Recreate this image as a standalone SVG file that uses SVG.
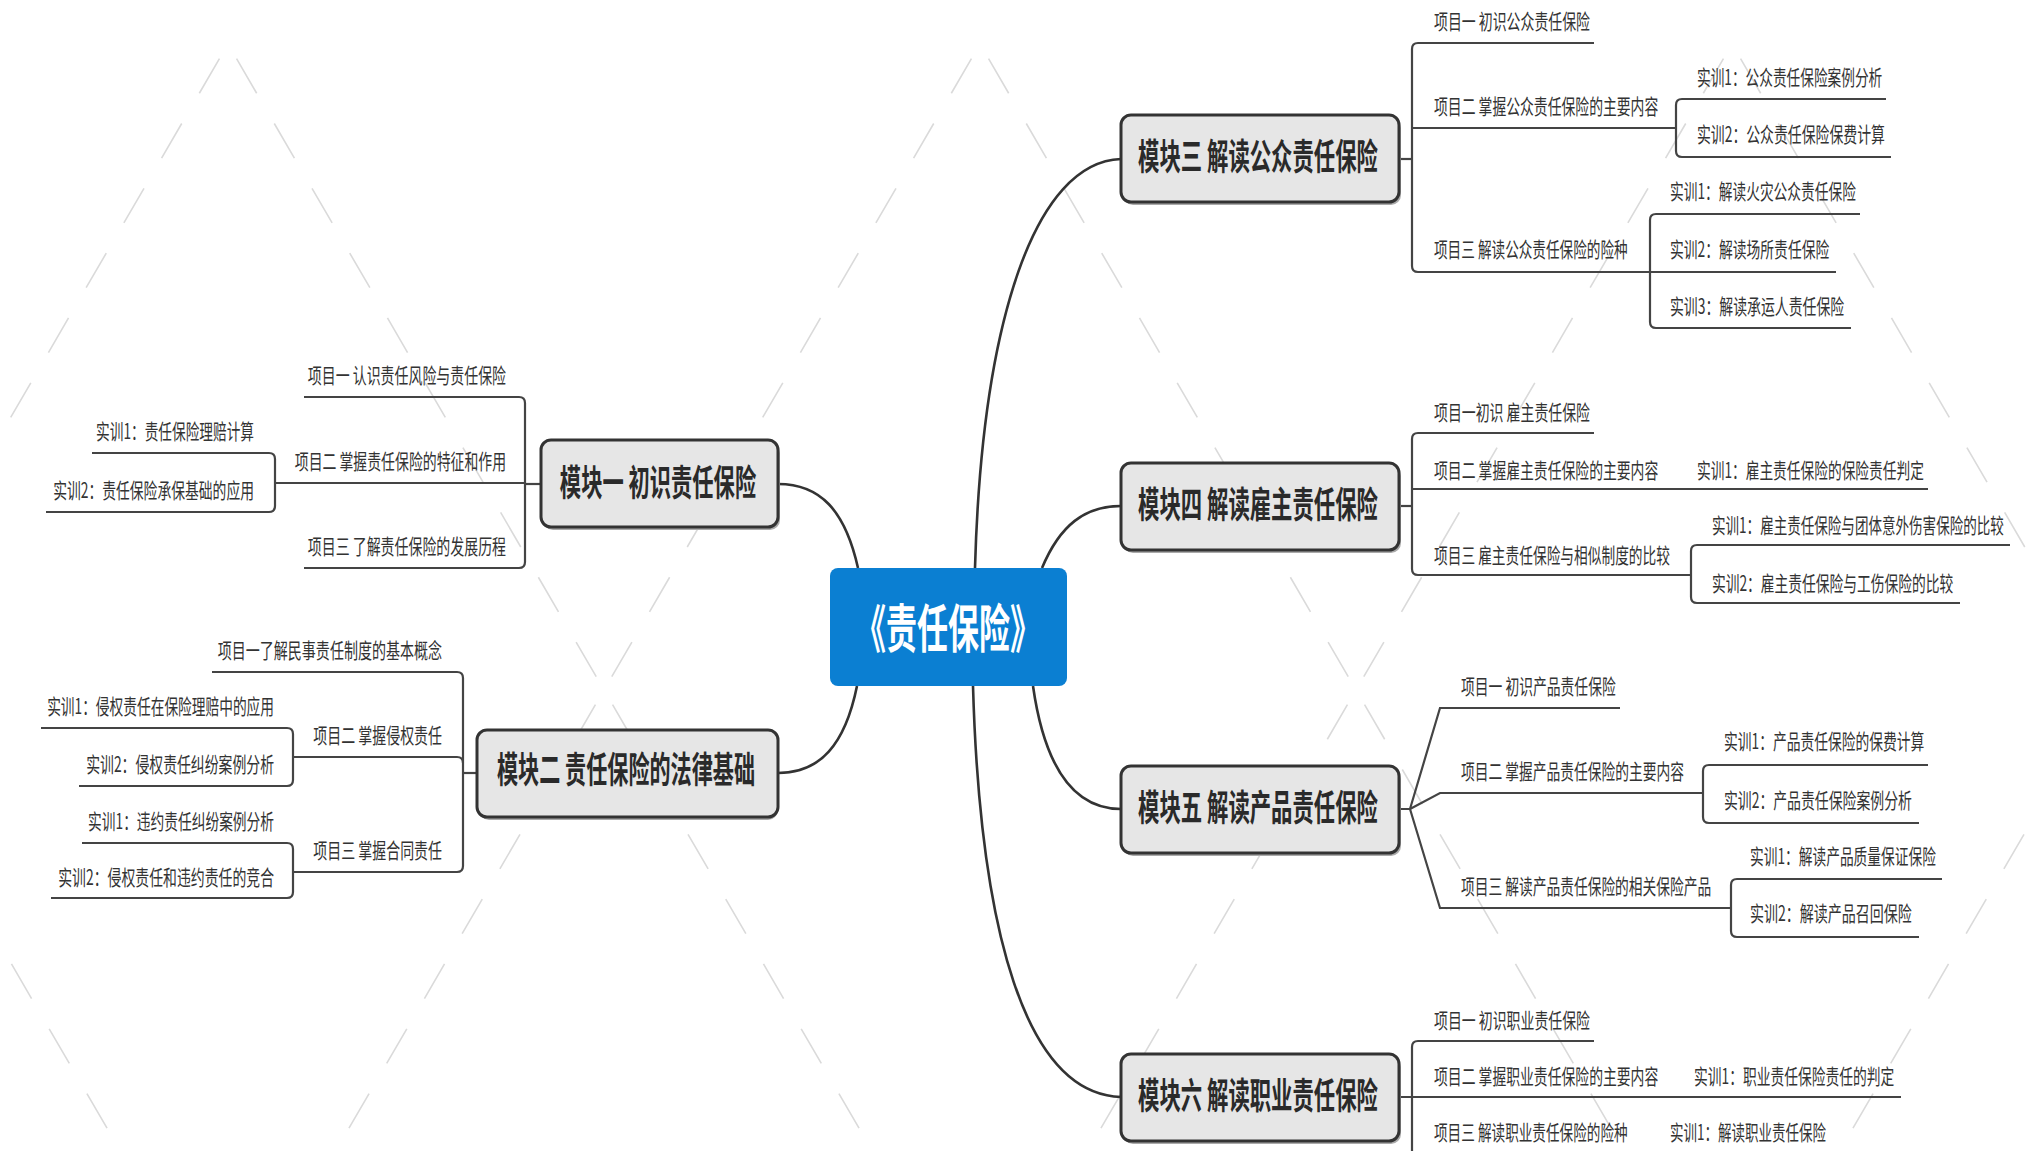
<svg xmlns="http://www.w3.org/2000/svg" width="2027" height="1151" viewBox="0 0 2027 1151">
<defs>
<style>
.bg{stroke:#dadada;stroke-width:1.6;fill:none;stroke-dasharray:40 35;stroke-dashoffset:58}
.cv{stroke:#333;stroke-width:2.6;fill:none}
.ln{stroke:#444;stroke-width:2.2;fill:none}
.box{fill:#e6e6e6;stroke:#333;stroke-width:3}
.shd{fill:#aaa}
.t{font-family:"Noto Sans CJK SC","Noto Sans",sans-serif;font-size:21px;fill:#333;dominant-baseline:central}
.m{font-family:"Noto Sans CJK SC","Noto Sans",sans-serif;font-size:36px;font-weight:bold;fill:#2a2a2a;dominant-baseline:central;text-anchor:middle}
.c{font-family:"Noto Sans CJK SC","Noto Sans",sans-serif;font-size:52px;font-weight:bold;fill:#fff;dominant-baseline:central;text-anchor:middle}
.e{text-anchor:end}
</style>
</defs>
<rect width="2027" height="1151" fill="#fff"/>
<g id="background">
<line class="bg" x1="228" y1="44" x2="-148" y2="690"/>
<line class="bg" x1="228" y1="44" x2="604" y2="690"/>
<line class="bg" x1="980" y1="44" x2="604" y2="690"/>
<line class="bg" x1="980" y1="44" x2="1356" y2="690"/>
<line class="bg" x1="1732" y1="44" x2="1356" y2="690"/>
<line class="bg" x1="1732" y1="44" x2="2108" y2="690"/>
<line class="bg" x1="-148" y1="690" x2="228" y2="1336"/>
<line class="bg" x1="604" y1="690" x2="228" y2="1336"/>
<line class="bg" x1="604" y1="690" x2="980" y2="1336"/>
<line class="bg" x1="1356" y1="690" x2="980" y2="1336"/>
<line class="bg" x1="1356" y1="690" x2="1732" y2="1336"/>
<line class="bg" x1="2108" y1="690" x2="1732" y2="1336"/>
</g>
<g id="connectors">
<path class="cv" d="M975 568 C982 320 1035 162 1121 159"/>
<path class="cv" d="M1042 568 C1060 525 1085 506 1121 506"/>
<path class="cv" d="M1033 686 C1045 770 1075 809 1121 809"/>
<path class="cv" d="M973 686 C980 930 1025 1094 1121 1097"/>
<path class="cv" d="M858 568 C845 510 820 484 778 484"/>
<path class="cv" d="M857 686 C845 745 820 773 778 773"/>
<path class="ln" d="M1399 159 H1412"/>
<path class="ln" d="M1594 43 H1418 Q1412 43 1412 49 V266 Q1412 272 1418 272 H1650"/>
<path class="ln" d="M1412 128 H1676"/>
<path class="ln" d="M1886 99 H1682 Q1676 99 1676 105 V151 Q1676 157 1682 157 H1891"/>
<path class="ln" d="M1860 214 H1656 Q1650 214 1650 220 V322 Q1650 328 1656 328 H1851"/>
<path class="ln" d="M1650 272 H1836"/>
<path class="ln" d="M1399 506 H1412"/>
<path class="ln" d="M1594 433 H1418 Q1412 433 1412 439 V569 Q1412 575 1418 575 H1691"/>
<path class="ln" d="M1412 489 H1928"/>
<path class="ln" d="M2010 545 H1697 Q1691 545 1691 551 V597 Q1691 603 1697 603 H1960"/>
<path class="ln" d="M1399 809 H1410 L1440 708 H1620"/>
<path class="ln" d="M1410 809 L1440 793 H1703"/>
<path class="ln" d="M1410 809 L1440 908 H1731"/>
<path class="ln" d="M1928 765 H1709 Q1703 765 1703 771 V817 Q1703 823 1709 823 H1919"/>
<path class="ln" d="M1942 879 H1737 Q1731 879 1731 885 V931 Q1731 937 1737 937 H1919"/>
<path class="ln" d="M1594 1041 H1418 Q1412 1041 1412 1047 V1160"/>
<path class="ln" d="M1399 1097 H1901"/>
<path class="ln" d="M541 484 H525"/>
<path class="ln" d="M304 397 H519 Q525 397 525 403 V562 Q525 568 519 568 H304"/>
<path class="ln" d="M525 483 H275"/>
<path class="ln" d="M92 453 H269 Q275 453 275 459 V506 Q275 512 269 512 H46"/>
<path class="ln" d="M477 773 H463"/>
<path class="ln" d="M212 672 H457 Q463 672 463 678 V866 Q463 872 457 872 H293"/>
<path class="ln" d="M293 757 H457 Q463 757 463 763"/>
<path class="ln" d="M41 728 H287 Q293 728 293 734 V780 Q293 786 287 786 H79"/>
<path class="ln" d="M82 843 H287 Q293 843 293 849 V892 Q293 898 287 898 H51"/>
</g>
<g id="root">
<rect x="830" y="568" width="237" height="118" rx="8" fill="#0b7fd2"/>
<text class="c" transform="translate(948,625) scale(0.65,1)" x="0" y="0" textLength="286" lengthAdjust="spacingAndGlyphs">《责任保险》</text>
</g>
<g id="module3">
<rect class="shd" x="1123" y="118" width="278" height="87" rx="10"/>
<rect class="box" x="1121" y="115" width="278" height="87" rx="10"/>
<text class="m" transform="translate(1258,155) scale(0.65,1)" x="0" y="0" textLength="369" lengthAdjust="spacingAndGlyphs">模块三 解读公众责任保险</text>
</g>
<g id="module4">
<rect class="shd" x="1123" y="466" width="278" height="87" rx="10"/>
<rect class="box" x="1121" y="463" width="278" height="87" rx="10"/>
<text class="m" transform="translate(1258,503) scale(0.65,1)" x="0" y="0" textLength="369" lengthAdjust="spacingAndGlyphs">模块四 解读雇主责任保险</text>
</g>
<g id="module5">
<rect class="shd" x="1123" y="769" width="278" height="87" rx="10"/>
<rect class="box" x="1121" y="766" width="278" height="87" rx="10"/>
<text class="m" transform="translate(1258,806) scale(0.65,1)" x="0" y="0" textLength="369" lengthAdjust="spacingAndGlyphs">模块五 解读产品责任保险</text>
</g>
<g id="module6">
<rect class="shd" x="1123" y="1057" width="278" height="87" rx="10"/>
<rect class="box" x="1121" y="1054" width="278" height="87" rx="10"/>
<text class="m" transform="translate(1258,1094) scale(0.65,1)" x="0" y="0" textLength="369" lengthAdjust="spacingAndGlyphs">模块六 解读职业责任保险</text>
</g>
<g id="module1">
<rect class="shd" x="543" y="443" width="237" height="87" rx="10"/>
<rect class="box" x="541" y="440" width="237" height="87" rx="10"/>
<text class="m" transform="translate(658,481) scale(0.65,1)" x="0" y="0" textLength="302" lengthAdjust="spacingAndGlyphs">模块一 初识责任保险</text>
</g>
<g id="module2">
<rect class="shd" x="479" y="733" width="299" height="87" rx="10"/>
<rect class="box" x="477" y="730" width="301" height="87" rx="10"/>
<text class="m" transform="translate(626,768) scale(0.65,1)" x="0" y="0" textLength="397" lengthAdjust="spacingAndGlyphs">模块二 责任保险的法律基础</text>
</g>
<g id="m3-items">
<g id="m3-p1"><text class="t" transform="translate(1434,20) scale(0.65,1)" x="0" y="0" textLength="240" lengthAdjust="spacingAndGlyphs">项目一 初识公众责任保险</text></g>
<g id="m3-p2"><text class="t" transform="translate(1434,105) scale(0.65,1)" x="0" y="0" textLength="345" lengthAdjust="spacingAndGlyphs">项目二 掌握公众责任保险的主要内容</text></g>
<g id="m3-p2-s1"><text class="t" transform="translate(1697,76) scale(0.65,1)" x="0" y="0" textLength="285" lengthAdjust="spacingAndGlyphs">实训1：公众责任保险案例分析</text></g>
<g id="m3-p2-s2"><text class="t" transform="translate(1697,133) scale(0.65,1)" x="0" y="0" textLength="289" lengthAdjust="spacingAndGlyphs">实训2：公众责任保险保费计算</text></g>
<g id="m3-p3"><text class="t" transform="translate(1434,248) scale(0.65,1)" x="0" y="0" textLength="298" lengthAdjust="spacingAndGlyphs">项目三 解读公众责任保险的险种</text></g>
<g id="m3-p3-s1"><text class="t" transform="translate(1670,190) scale(0.65,1)" x="0" y="0" textLength="286" lengthAdjust="spacingAndGlyphs">实训1：解读火灾公众责任保险</text></g>
<g id="m3-p3-s2"><text class="t" transform="translate(1670,248) scale(0.65,1)" x="0" y="0" textLength="245" lengthAdjust="spacingAndGlyphs">实训2：解读场所责任保险</text></g>
<g id="m3-p3-s3"><text class="t" transform="translate(1670,305) scale(0.65,1)" x="0" y="0" textLength="268" lengthAdjust="spacingAndGlyphs">实训3：解读承运人责任保险</text></g>
</g>
<g id="m4-items">
<g id="m4-p1"><text class="t" transform="translate(1434,411) scale(0.65,1)" x="0" y="0" textLength="240" lengthAdjust="spacingAndGlyphs">项目一初识 雇主责任保险</text></g>
<g id="m4-p2"><text class="t" transform="translate(1434,469) scale(0.65,1)" x="0" y="0" textLength="345" lengthAdjust="spacingAndGlyphs">项目二 掌握雇主责任保险的主要内容</text></g>
<g id="m4-p2-s1"><text class="t" transform="translate(1697,469) scale(0.65,1)" x="0" y="0" textLength="349" lengthAdjust="spacingAndGlyphs">实训1：雇主责任保险的保险责任判定</text></g>
<g id="m4-p3"><text class="t" transform="translate(1434,554) scale(0.65,1)" x="0" y="0" textLength="363" lengthAdjust="spacingAndGlyphs">项目三 雇主责任保险与相似制度的比较</text></g>
<g id="m4-p3-s1"><text class="t" transform="translate(1712,524) scale(0.65,1)" x="0" y="0" textLength="449" lengthAdjust="spacingAndGlyphs">实训1：雇主责任保险与团体意外伤害保险的比较</text></g>
<g id="m4-p3-s2"><text class="t" transform="translate(1712,582) scale(0.65,1)" x="0" y="0" textLength="371" lengthAdjust="spacingAndGlyphs">实训2：雇主责任保险与工伤保险的比较</text></g>
</g>
<g id="m5-items">
<g id="m5-p1"><text class="t" transform="translate(1461,685) scale(0.65,1)" x="0" y="0" textLength="238" lengthAdjust="spacingAndGlyphs">项目一 初识产品责任保险</text></g>
<g id="m5-p2"><text class="t" transform="translate(1461,770) scale(0.65,1)" x="0" y="0" textLength="343" lengthAdjust="spacingAndGlyphs">项目二 掌握产品责任保险的主要内容</text></g>
<g id="m5-p2-s1"><text class="t" transform="translate(1724,740) scale(0.65,1)" x="0" y="0" textLength="308" lengthAdjust="spacingAndGlyphs">实训1：产品责任保险的保费计算</text></g>
<g id="m5-p2-s2"><text class="t" transform="translate(1724,799) scale(0.65,1)" x="0" y="0" textLength="289" lengthAdjust="spacingAndGlyphs">实训2：产品责任保险案例分析</text></g>
<g id="m5-p3"><text class="t" transform="translate(1461,885) scale(0.65,1)" x="0" y="0" textLength="385" lengthAdjust="spacingAndGlyphs">项目三 解读产品责任保险的相关保险产品</text></g>
<g id="m5-p3-s1"><text class="t" transform="translate(1750,855) scale(0.65,1)" x="0" y="0" textLength="286" lengthAdjust="spacingAndGlyphs">实训1：解读产品质量保证保险</text></g>
<g id="m5-p3-s2"><text class="t" transform="translate(1750,912) scale(0.65,1)" x="0" y="0" textLength="249" lengthAdjust="spacingAndGlyphs">实训2：解读产品召回保险</text></g>
</g>
<g id="m6-items">
<g id="m6-p1"><text class="t" transform="translate(1434,1019) scale(0.65,1)" x="0" y="0" textLength="240" lengthAdjust="spacingAndGlyphs">项目一 初识职业责任保险</text></g>
<g id="m6-p2"><text class="t" transform="translate(1434,1075) scale(0.65,1)" x="0" y="0" textLength="345" lengthAdjust="spacingAndGlyphs">项目二 掌握职业责任保险的主要内容</text></g>
<g id="m6-p2-s1"><text class="t" transform="translate(1694,1075) scale(0.65,1)" x="0" y="0" textLength="308" lengthAdjust="spacingAndGlyphs">实训1：职业责任保险责任的判定</text></g>
<g id="m6-p3"><text class="t" transform="translate(1434,1131) scale(0.65,1)" x="0" y="0" textLength="298" lengthAdjust="spacingAndGlyphs">项目三 解读职业责任保险的险种</text></g>
<g id="m6-p3-s1"><text class="t" transform="translate(1670,1131) scale(0.65,1)" x="0" y="0" textLength="240" lengthAdjust="spacingAndGlyphs">实训1：解读职业责任保险</text></g>
</g>
<g id="m1-items">
<g id="m1-p1"><text class="t e" transform="translate(506,374) scale(0.65,1)" x="0" y="0" textLength="305" lengthAdjust="spacingAndGlyphs">项目一 认识责任风险与责任保险</text></g>
<g id="m1-p2"><text class="t e" transform="translate(506,460) scale(0.65,1)" x="0" y="0" textLength="325" lengthAdjust="spacingAndGlyphs">项目二 掌握责任保险的特征和作用</text></g>
<g id="m1-p2-s1"><text class="t e" transform="translate(254,430) scale(0.65,1)" x="0" y="0" textLength="243" lengthAdjust="spacingAndGlyphs">实训1：责任保险理赔计算</text></g>
<g id="m1-p2-s2"><text class="t e" transform="translate(254,489) scale(0.65,1)" x="0" y="0" textLength="309" lengthAdjust="spacingAndGlyphs">实训2：责任保险承保基础的应用</text></g>
<g id="m1-p3"><text class="t e" transform="translate(506,545) scale(0.65,1)" x="0" y="0" textLength="305" lengthAdjust="spacingAndGlyphs">项目三 了解责任保险的发展历程</text></g>
</g>
<g id="m2-items">
<g id="m2-p1"><text class="t e" transform="translate(442,649) scale(0.65,1)" x="0" y="0" textLength="345" lengthAdjust="spacingAndGlyphs">项目一了解民事责任制度的基本概念</text></g>
<g id="m2-p2"><text class="t e" transform="translate(442,734) scale(0.65,1)" x="0" y="0" textLength="198" lengthAdjust="spacingAndGlyphs">项目二 掌握侵权责任</text></g>
<g id="m2-p2-s1"><text class="t e" transform="translate(274,705) scale(0.65,1)" x="0" y="0" textLength="349" lengthAdjust="spacingAndGlyphs">实训1：侵权责任在保险理赔中的应用</text></g>
<g id="m2-p2-s2"><text class="t e" transform="translate(274,763) scale(0.65,1)" x="0" y="0" textLength="289" lengthAdjust="spacingAndGlyphs">实训2：侵权责任纠纷案例分析</text></g>
<g id="m2-p3"><text class="t e" transform="translate(442,849) scale(0.65,1)" x="0" y="0" textLength="198" lengthAdjust="spacingAndGlyphs">项目三 掌握合同责任</text></g>
<g id="m2-p3-s1"><text class="t e" transform="translate(274,820) scale(0.65,1)" x="0" y="0" textLength="286" lengthAdjust="spacingAndGlyphs">实训1：违约责任纠纷案例分析</text></g>
<g id="m2-p3-s2"><text class="t e" transform="translate(274,876) scale(0.65,1)" x="0" y="0" textLength="332" lengthAdjust="spacingAndGlyphs">实训2：侵权责任和违约责任的竞合</text></g>
</g>
</svg>
